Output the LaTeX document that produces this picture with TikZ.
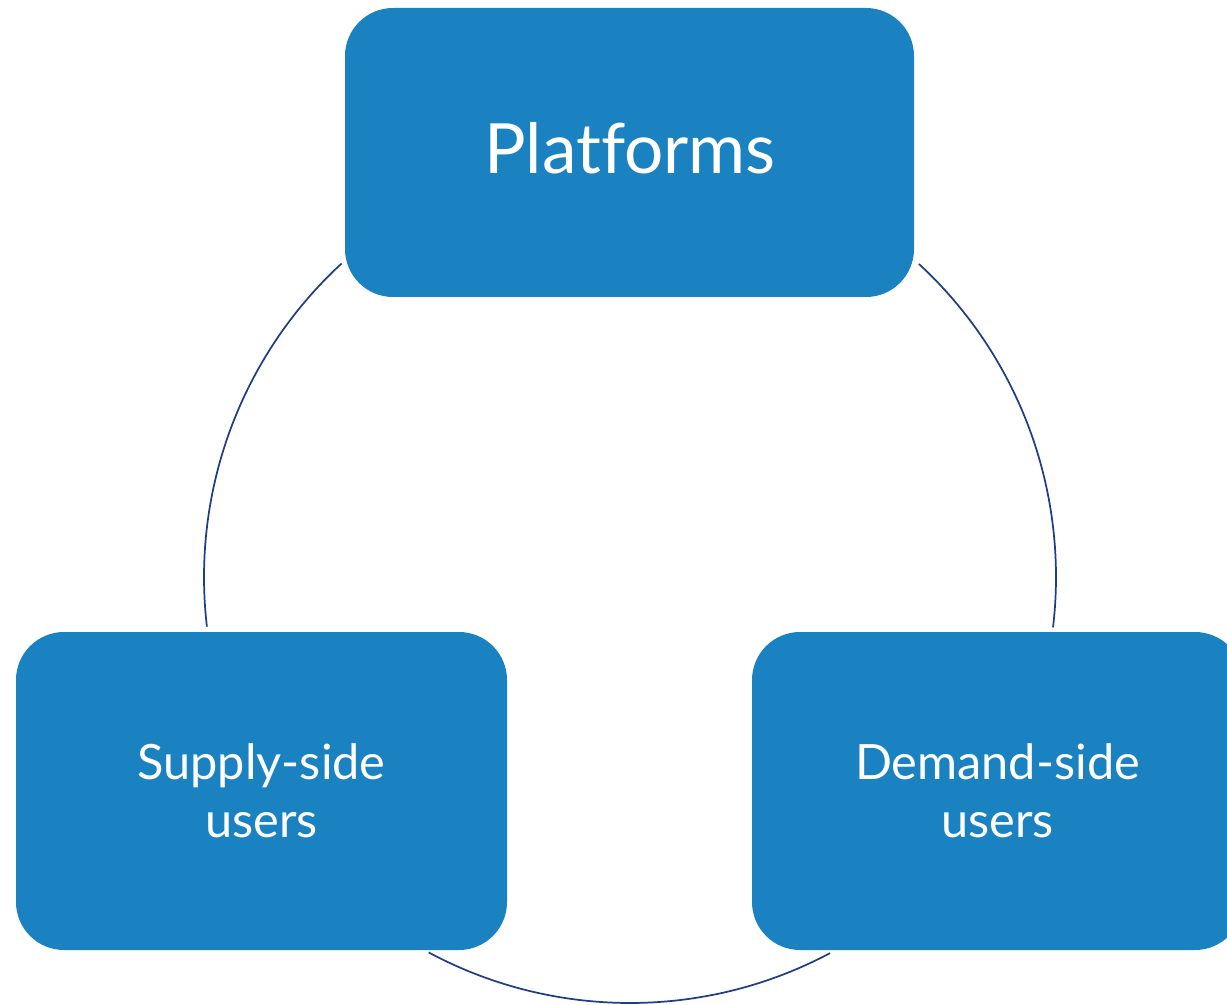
\documentclass[tikz,border=0pt]{standalone}
\usepackage{fontspec}
\setmainfont[Ligatures={NoCommon}]{Lato}
\definecolor{boxblue}{HTML}{1A82C1}
\definecolor{arcnavy}{HTML}{1E3F86}
\tikzset{
  box/.style={draw=none, fill=boxblue, rounded corners=36pt, text=white, align=center, inner sep=0pt},
  link/.style={draw=arcnavy, line width=1.3pt},
}
\begin{document}
\begin{tikzpicture}[x=0.75pt,y=0.75pt]
\useasboundingbox (0,0) rectangle (1227,-1005);
\begin{scope}
\clip (0,0) rectangle (1227,-1005);
\node[box, minimum width=426.75pt, minimum height=216.75pt] (plat) at (629.5,-152.5) {};
\node[text=white, font=\fontsize{52}{62}\selectfont, inner sep=0pt] (plattext) at (630,-148) {Platforms};
\node[box, minimum width=368.25pt, minimum height=238.5pt, font=\fontsize{36.5}{43.5}\selectfont] (supply) at (261.5,-791) {Supply-side\\users};
\node[box, minimum width=368.25pt, minimum height=238.5pt, font=\fontsize{36.5}{43.5}\selectfont] (demand) at (997.5,-791) {Demand-side\\users};
\end{scope}
\coordinate (c) at (630,-577);
\draw[link] (c) ++(132.6:319.5pt) coordinate (a1) arc[start angle=132.6, end angle=186.7, radius=319.5pt] coordinate (a2);
\draw[link] (c) ++(47.3:319.5pt) coordinate (b1) arc[start angle=47.3, end angle=-6.8, radius=319.5pt] coordinate (b2);
\draw[link] (c) ++(241.8:319.5pt) coordinate (d1) arc[start angle=241.8, end angle=298.0, radius=319.5pt] coordinate (d2);
\end{tikzpicture}
\end{document}
